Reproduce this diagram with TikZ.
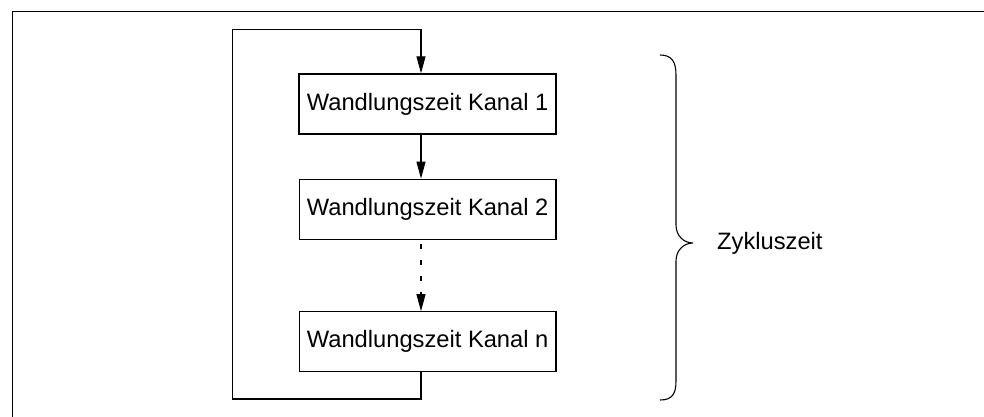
\documentclass[tikz,border=0pt]{standalone}
\usepackage{fontspec}
\setmainfont{Liberation Sans}
\usetikzlibrary{arrows.meta}
\begin{document}
\begin{tikzpicture}[x=1pt,y=-1pt,
  boxstyle/.style={draw,line width=1.1pt,minimum width=256.7pt,minimum height=60pt,inner sep=0pt,
    font=\fontsize{23.7}{28}\selectfont},
  boldbox/.style={boxstyle,line width=1.9pt},
  conn/.style={line width=1.1pt,-{Triangle[length=17pt,width=9pt]}},
  plain/.style={line width=1.1pt},
  lbl/.style={font=\fontsize{23.7}{28}\selectfont,inner sep=0pt,anchor=west}]
\useasboundingbox (0,0) rectangle (984,417);
% frame
\draw[line width=1.8pt] (12.5,417) -- (12.5,11.5) -- (984,11.5);
% boxes
\node[boldbox] (b1) at (427.65,104.3) {Wandlungszeit Kanal 1};
\node[boxstyle] (b2) at (427.65,209.2) {Wandlungszeit Kanal 2};
\node[boxstyle] (bn) at (427.65,341.7) {Wandlungszeit Kanal n};
% loop coordinates
\coordinate (top) at (421,29.3);
\coordinate (tl) at (232.3,29.3);
\coordinate (bl) at (232.3,399);
\coordinate (br) at (421,399);
% connectors
\draw[conn] (tl) -- (top) -- (top |- b1.north);
\draw[conn] (b1.south -| top) -- (b2.north -| top);
\draw[conn,dash pattern=on 5pt off 11pt,dash phase=12pt] (b2.south -| top) -- (bn.north -| top);
\draw[plain] (bn.south -| top) -- (br) -- (bl) -- (tl);
% brace
\coordinate (tip) at (693,243);
\draw[plain] (660,55) .. controls (672,55) and (676,62) .. (676,75) -- (676,225)
  .. controls (676,236) and (684,243) .. (tip)
  .. controls (684,243) and (676,250) .. (676,261) -- (676,381)
  .. controls (676,394) and (672,400) .. (660,400);
\node[lbl] (z) at (717,243) {Zykluszeit};
\end{tikzpicture}
\end{document}
